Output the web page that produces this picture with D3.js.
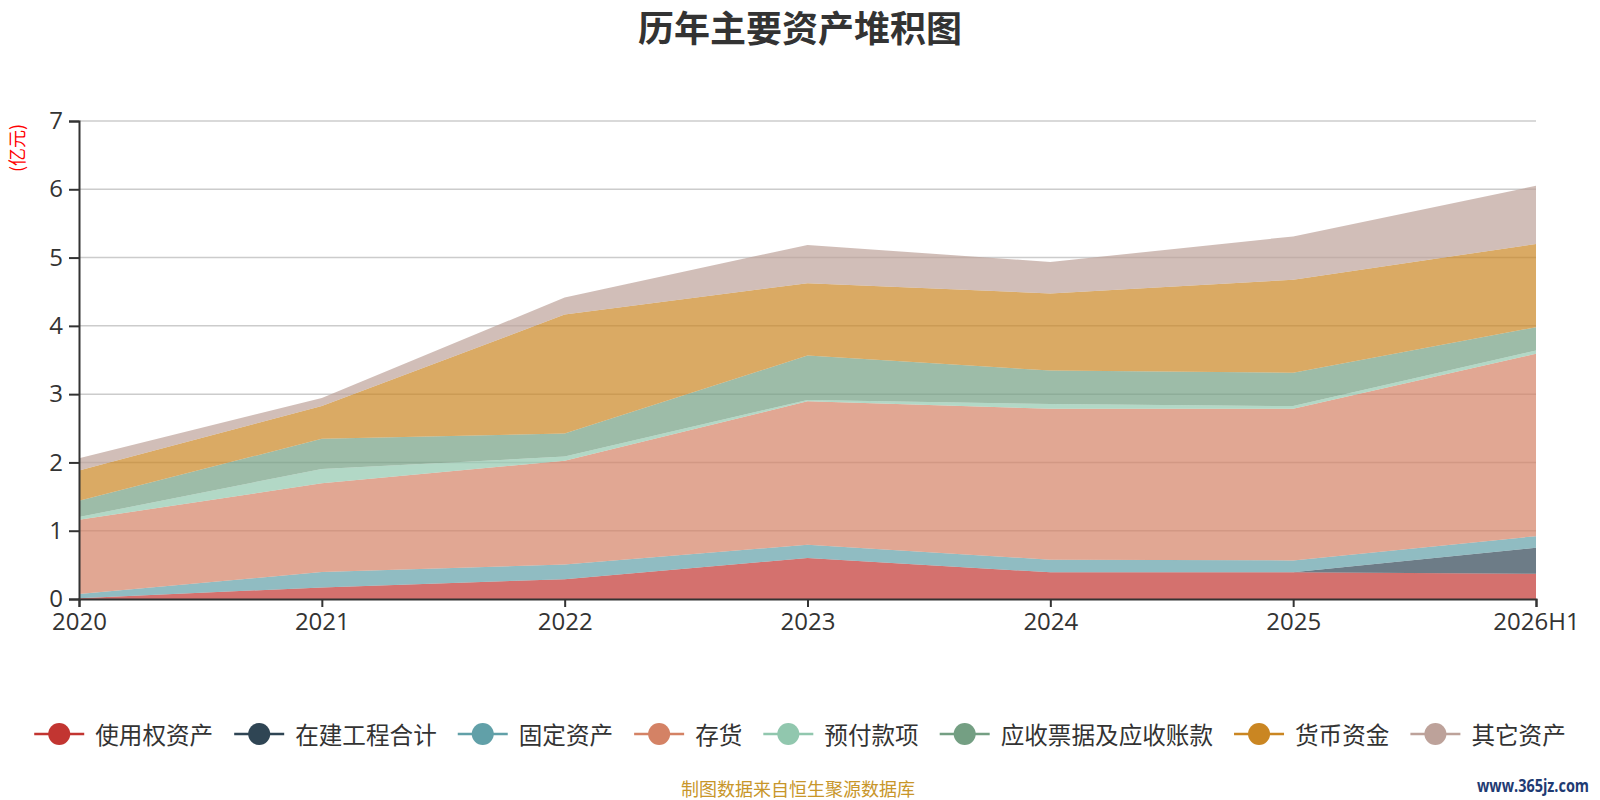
<!DOCTYPE html>
<html>
<head>
<meta charset="utf-8">
<script src="https://cdn.jsdelivr.net/npm/d3@7"></script>
<style>
  body { margin: 0; background: #fff; }
  text { font-family: "Open Sans", "Noto Sans CJK SC", sans-serif; }
  .cjk { font-family: "Noto Sans CJK SC", sans-serif; }
</style>
</head>
<body>
<div class="canvas"></div>
<script>
// values (亿元)
const years = ["2020", "2021", "2022", "2023", "2024", "2025", "2026H1"];
const yTicks = [0, 1, 2, 3, 4, 5, 6, 7];
const seriesNames = ["使用权资产", "在建工程合计", "固定资产", "存货", "预付款项", "应收票据及应收账款", "货币资金", "其它资产"];

const useRight    = [0.01, 0.17, 0.29, 0.60, 0.39, 0.39, 0.37];
const construct   = [0, 0, 0, 0, 0, 0, 0.38];
const fixedAssets = [0.065, 0.225, 0.215, 0.195, 0.185, 0.175, 0.17];
const inventory   = [1.085, 1.30, 1.52, 2.10, 2.21, 2.22, 2.67];
const prepaid     = [0.04, 0.21, 0.06, 0.02, 0.07, 0.04, 0.05];
const receivable  = [0.24, 0.44, 0.34, 0.65, 0.49, 0.49, 0.34];
const cash        = [0.44, 0.48, 1.74, 1.06, 1.13, 1.36, 1.22];
const others      = [0.18, 0.12, 0.25, 0.56, 0.46, 0.635, 0.85];

const seriesValues = [useRight, construct, fixedAssets, inventory, prepaid, receivable, cash, others];

const width = 1600;
const height = 800;
const marginTop = 121;
const marginRight = 64;
const marginBottom = 201;
const marginLeft = 79;
const color = d3.scaleOrdinal()
  .domain(seriesNames)
  .range(["#c23531", "#2f4554", "#61a0a8", "#d48265", "#91c7ae", "#749f83", "#ca8622", "#bda29a"]);

// rows for d3.stack
const table = years.map((yr, i) => {
  const row = { year: yr };
  seriesNames.forEach((name, k) => row[name] = seriesValues[k][i]);
  return row;
});
const stacked = d3.stack().keys(seriesNames)(table);

const x = d3.scalePoint()
  .domain(years)
  .range([marginLeft, width - marginRight])
  .padding(0);

const y = d3.scaleLinear()
  .domain([0, 7])
  .range([height - marginBottom, marginTop]);

const svg = d3.select(".canvas").append("svg")
  .attr("width", width)
  .attr("height", height);

// grid lines
svg.append("g")
  .selectAll("line")
  .data(yTicks.filter(d => d > 0))
  .join("line")
    .attr("x1", marginLeft)
    .attr("x2", width - marginRight)
    .attr("y1", d => y(d))
    .attr("y2", d => y(d))
    .attr("stroke", "#ccc")
    .attr("stroke-width", 1.5);

const area = d3.area()
  .x(d => x(d.data.year))
  .y0(d => y(d[0]))
  .y1(d => y(d[1]));

svg.append("g")
  .selectAll("path")
  .data(stacked)
  .join("path")
    .attr("d", area)
    .attr("fill", d => color(d.key))
    .attr("fill-opacity", 0.7);

// axes
const xAxis = d3.axisBottom(x).tickSize(8).tickPadding(6);
const yAxis = d3.axisLeft(y).tickValues(yTicks).tickFormat(d3.format("d")).tickSize(10).tickPadding(6);

const gx = svg.append("g")
  .attr("transform", translate(0, height - marginBottom))
  .call(xAxis);
gx.select(".domain").attr("stroke", "#333").attr("stroke-width", 2);
gx.selectAll(".tick line").attr("stroke", "#333").attr("stroke-width", 2);
gx.selectAll(".tick text").attr("fill", "#333").attr("font-size", 24);

const gy = svg.append("g")
  .attr("transform", translate(marginLeft, 0))
  .call(yAxis);
gy.select(".domain").attr("stroke", "#333").attr("stroke-width", 2);
gy.selectAll(".tick line").attr("stroke", "#333").attr("stroke-width", 2);
gy.selectAll(".tick text").attr("fill", "#333").attr("font-size", 24);

function translate(x, y) {
  return "translate(" + x + ", " + y + ")";
}

// title and unit
svg.append("text")
  .attr("class", "cjk")
  .attr("x", width / 2)
  .attr("y", 26)
  .attr("text-anchor", "middle")
  .attr("dominant-baseline", "central")
  .attr("font-size", 36)
  .attr("font-weight", "bold")
  .attr("fill", "#333")
  .text("历年主要资产堆积图");

svg.append("text")
  .attr("class", "cjk")
  .attr("transform", translate(16, 148) + " rotate(-90)")
  .attr("text-anchor", "middle")
  .attr("dominant-baseline", "central")
  .attr("font-size", 18)
  .attr("fill", "#ff0000")
  .text("(亿元)");

// legend
const legend = svg.append("g");
const items = legend.selectAll("g")
  .data(seriesNames)
  .join("g");

items.append("line")
  .attr("x1", 0).attr("x2", 50)
  .attr("y1", 0).attr("y2", 0)
  .attr("stroke", d => color(d))
  .attr("stroke-width", 2.5);
items.append("circle")
  .attr("cx", 25).attr("cy", 0).attr("r", 11)
  .attr("fill", d => color(d));
items.append("text")
  .attr("class", "cjk")
  .attr("x", 61)
  .attr("dominant-baseline", "central")
  .attr("font-size", 23.6)
  .attr("fill", "#333")
  .text(d => d);

let offset = 0;
items.each(function () {
  const w = d3.select(this).select("text").node().getComputedTextLength();
  d3.select(this).attr("transform", translate(offset, 0));
  offset += 61 + w + 21;
});
const legendWidth = offset - 21;
legend.attr("transform", translate((width - legendWidth) / 2, 734));

// source note and watermark
svg.append("text")
  .attr("class", "cjk")
  .attr("x", 798)
  .attr("y", 788)
  .attr("text-anchor", "middle")
  .attr("dominant-baseline", "central")
  .attr("font-size", 18)
  .attr("fill", "#c8962a")
  .text("制图数据来自恒生聚源数据库");

svg.append("text")
  .attr("x", 1477)
  .attr("y", 785)
  .attr("dominant-baseline", "central")
  .attr("font-family", "'Liberation Serif', serif")
  .attr("font-weight", "bold")
  .attr("font-size", 18)
  .attr("textLength", 112)
  .attr("lengthAdjust", "spacingAndGlyphs")
  .attr("fill", "#1f3b73")
  .text("www.365jz.com");
</script>
</body>
</html>
